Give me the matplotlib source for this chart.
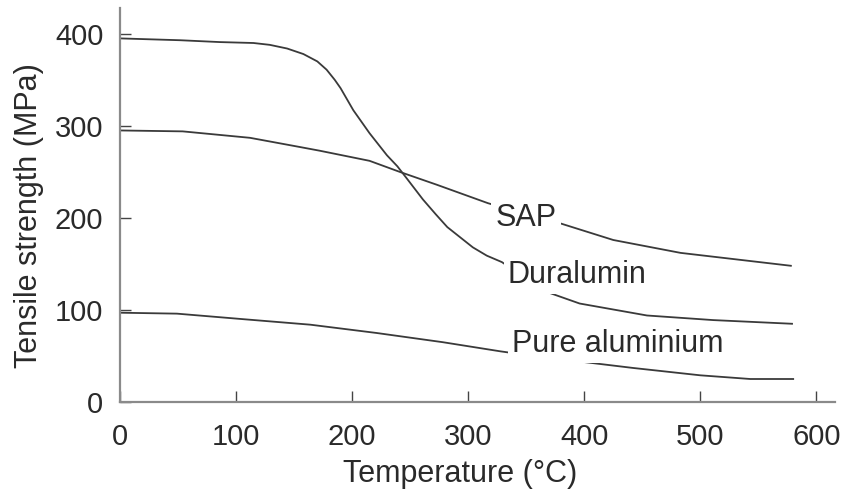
import matplotlib.pyplot as plt
import numpy as np

plt.rcParams['font.family'] = ['Liberation Sans', 'DejaVu Sans']

# values
temp_dur = [0, 52, 86, 115, 129, 144, 158, 170, 178, 185, 190, 201, 215, 230,
            239, 247, 261, 272, 282, 293, 304, 316, 329, 349, 369, 396, 454,
            511, 579]
dur = [395, 393, 391, 390, 388, 384, 378, 370, 361, 350, 341, 317, 292, 268,
       256, 243, 220, 204, 190, 179, 168, 159, 152, 135, 119, 107, 94, 89, 85]

temp_sap = [0, 54, 112, 155, 172, 215, 241, 273, 317, 347, 377, 425, 483, 578]
sap = [295, 294, 287, 277, 273, 262, 250, 236, 216, 205, 195, 176, 162, 148]

temp_pure = [0, 49, 106, 164, 221, 278, 328, 362, 396, 442, 500, 543, 580]
pure = [97, 96, 90, 84, 75, 65, 55, 49, 44, 37, 29, 25, 25]

labels = ['SAP', 'Duralumin', 'Pure aluminium']
label_pos = [(350, 200), (394, 138), (429, 63)]

xticks = [0, 100, 200, 300, 400, 500, 600]
yticks = [0, 100, 200, 300, 400]

fig = plt.figure(figsize=(8.44, 4.92), dpi=100)
ax = fig.add_axes([0.1422, 0.1829, 0.8471, 0.8008])

line_kw = dict(color='#3a3a3a', lw=1.3)
ax.plot(temp_dur, dur, **line_kw)
ax.plot(temp_sap, sap, **line_kw)
ax.plot(temp_pure, pure, **line_kw)

for lab, (lx, ly) in zip(labels, label_pos):
    ax.text(lx, ly, lab, fontsize=22, color='#2a2a2a', ha='center', va='center',
            bbox=dict(facecolor='white', edgecolor='none', pad=3))

ax.set_xlim(0, 616)
ax.set_ylim(0, 428)
ax.set_xticks(xticks)
ax.set_yticks(yticks)

for s in ['top', 'right']:
    ax.spines[s].set_visible(False)
for s in ['left', 'bottom']:
    ax.spines[s].set_color('#8a8a8a')
    ax.spines[s].set_linewidth(1.6)

ax.tick_params(direction='in', length=8, width=1, color='#444444',
               labelsize=21, labelcolor='#2a2a2a')
ax.tick_params(axis='y', pad=12)
ax.tick_params(axis='x', pad=15)

ax.set_xlabel('Temperature (°C)', fontsize=22, color='#2a2a2a')
ax.set_ylabel('Tensile strength (MPa)', fontsize=22, color='#2a2a2a')
ax.xaxis.set_label_coords(0.4755, -0.145)
ax.yaxis.set_label_coords(-0.106, 0.472)

fig.savefig('out.png', dpi=100)
